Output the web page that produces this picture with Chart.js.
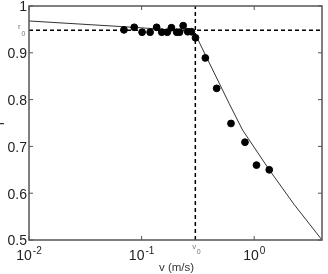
<!DOCTYPE html>
<html>
<head>
<meta charset="utf-8">
<script src="https://cdn.jsdelivr.net/npm/chart.js@4"></script>
<style>
  body { margin: 0; background: #fff; }
  #wrap { width: 328px; height: 274px; }
</style>
</head>
<body>
<div id="wrap"><canvas id="chart" width="328" height="274"></canvas></div>
<script>
// measured points
const speeds = [0.0697, 0.086, 0.101, 0.119, 0.136, 0.151, 0.169, 0.184, 0.205, 0.217, 0.234, 0.257, 0.277, 0.301, 0.368, 0.464, 0.622, 0.828, 1.048, 1.36];
const ratios = [0.949, 0.9545, 0.944, 0.944, 0.9545, 0.944, 0.944, 0.9536, 0.944, 0.944, 0.958, 0.945, 0.945, 0.932, 0.889, 0.824, 0.749, 0.709, 0.660, 0.650];

// fitted curve
const fitSpeeds = [0.01, 0.0665, 0.217, 0.26, 0.301, 0.400, 0.601, 0.788, 1.36, 2.26, 4];
const fitRatios = [0.968, 0.956, 0.948, 0.945, 0.939, 0.878, 0.791, 0.735, 0.650, 0.576, 0.5];

// thresholds
const r0 = 0.948;
const v0 = 0.30;

// axes
const xTicks = [0.01, 0.1, 1];
const xTickExponents = ["-2", "-1", "0"];
const yTicks = [0.5, 0.6, 0.7, 0.8, 0.9, 1];
const yTickLabels = ["0.5", "0.6", "0.7", "0.8", "0.9", "1"];
const xRange = [0.01, 4];
const yRange = [0.5, 1];

const FONT = '"Liberation Sans", Arial, sans-serif';

const axesBox = {
  id: "axesBox",
  afterDraw(chart) {
    const { ctx, chartArea: a, scales: { x, y } } = chart;
    ctx.save();

    // frame and inward ticks
    ctx.strokeStyle = "#555";
    ctx.lineWidth = 1.5;
    ctx.strokeRect(a.left, a.top, a.right - a.left, a.bottom - a.top);
    ctx.lineWidth = 1;
    ctx.beginPath();
    xTicks.forEach(v => {
      const px = x.getPixelForValue(v);
      ctx.moveTo(px, a.bottom); ctx.lineTo(px, a.bottom - 4);
      ctx.moveTo(px, a.top); ctx.lineTo(px, a.top + 4);
    });
    yTicks.forEach(v => {
      const py = y.getPixelForValue(v);
      ctx.moveTo(a.left, py); ctx.lineTo(a.left + 4, py);
      ctx.moveTo(a.right, py); ctx.lineTo(a.right - 4, py);
    });
    ctx.stroke();

    // y tick labels
    ctx.fillStyle = "#222";
    ctx.font = "14px " + FONT;
    ctx.textAlign = "right";
    ctx.textBaseline = "middle";
    yTicks.forEach((v, i) => {
      ctx.fillText(yTickLabels[i], a.left - 2, y.getPixelForValue(v) + 1.5);
    });

    // x tick labels as 10^n
    ctx.textAlign = "left";
    ctx.textBaseline = "alphabetic";
    xTicks.forEach((v, i) => {
      const px = x.getPixelForValue(v);
      ctx.font = "14px " + FONT;
      const wBase = ctx.measureText("10").width;
      ctx.font = "10px " + FONT;
      const wExp = ctx.measureText(xTickExponents[i]).width;
      const start = px - (wBase + 1 + wExp) / 2;
      ctx.font = "14px " + FONT;
      ctx.fillText("10", start, 260);
      ctx.font = "10px " + FONT;
      ctx.fillText(xTickExponents[i], start + wBase + 1, 253.5);
    });

    // axis titles
    ctx.fillStyle = "#333";
    ctx.font = "11.5px " + FONT;
    ctx.textAlign = "center";
    ctx.fillText("v (m/s)", (a.left + a.right) / 2 + 1, 271);
    ctx.save();
    ctx.translate(4, (a.top + a.bottom) / 2);
    ctx.rotate(-Math.PI / 2);
    ctx.font = "14px " + FONT;
    ctx.fillText("r", 0, 0);
    ctx.restore();

    // threshold labels
    ctx.fillStyle = "#777";
    ctx.textAlign = "left";
    const pv = x.getPixelForValue(v0);
    ctx.font = "8px " + FONT;
    ctx.fillText("v", pv - 3, 248.5);
    ctx.font = "7px " + FONT;
    ctx.fillText("0", pv + 1.3, 253.5);
    const pr = y.getPixelForValue(r0);
    ctx.font = "8px " + FONT;
    ctx.fillText("r", 18, pr - 1);
    ctx.font = "7px " + FONT;
    ctx.fillText("0", 21.5, pr + 5.5);

    ctx.restore();
  }
};

new Chart(document.getElementById("chart"), {
  type: "scatter",
  data: {
    datasets: [
      {
        label: "measured",
        data: speeds.map((v, i) => ({ x: v, y: ratios[i] })),
        backgroundColor: "#000",
        borderColor: "#000",
        pointRadius: 3.4,
        pointHoverRadius: 3.4
      },
      {
        label: "fit",
        type: "line",
        data: fitSpeeds.map((v, i) => ({ x: v, y: fitRatios[i] })),
        borderColor: "#333",
        borderWidth: 1,
        pointRadius: 0,
        fill: false,
        tension: 0
      },
      {
        label: "r0",
        type: "line",
        data: [{ x: xRange[0], y: r0 }, { x: xRange[1], y: r0 }],
        borderColor: "#000",
        borderWidth: 1.5,
        borderDash: [4, 3],
        pointRadius: 0,
        fill: false
      },
      {
        label: "v0",
        type: "line",
        data: [{ x: v0, y: yRange[0] }, { x: v0, y: yRange[1] }],
        borderColor: "#000",
        borderWidth: 1.5,
        borderDash: [4, 3],
        pointRadius: 0,
        fill: false
      }
    ]
  },
  options: {
    responsive: false,
    animation: false,
    devicePixelRatio: 1,
    layout: { padding: { left: 29, top: 6, right: 6, bottom: 34 } },
    scales: {
      x: { type: "logarithmic", min: xRange[0], max: xRange[1], display: false },
      y: { type: "linear", min: yRange[0], max: yRange[1], display: false }
    },
    plugins: {
      legend: { display: false },
      tooltip: { enabled: false }
    }
  },
  plugins: [axesBox]
});
</script>
</body>
</html>
